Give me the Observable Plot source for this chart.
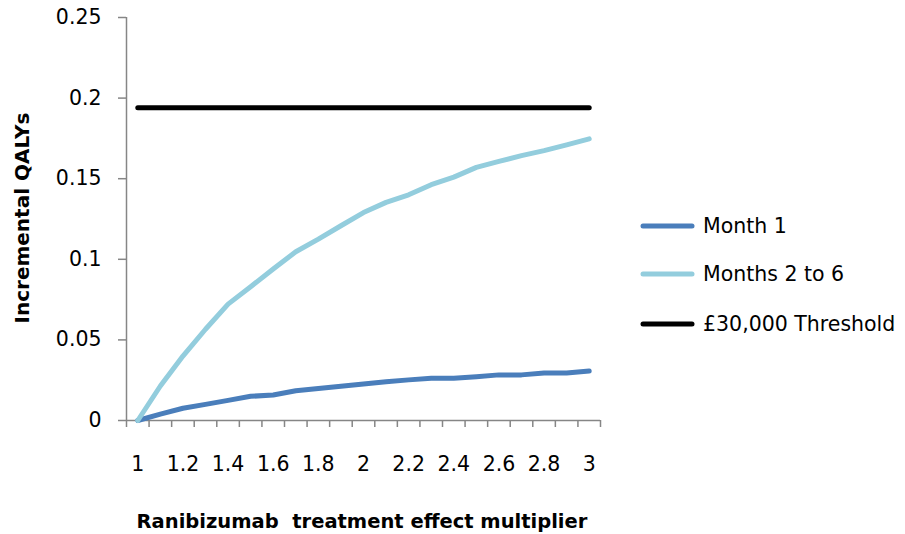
<!DOCTYPE html>
<html>
<head>
<meta charset="utf-8">
<script src="https://cdn.jsdelivr.net/npm/d3@7"></script>
<script src="https://cdn.jsdelivr.net/npm/@observablehq/plot@0.6"></script>
<style>
  html, body { margin: 0; padding: 0; background: #fff; }
  #wrap { position: relative; width: 905px; height: 534px; font-family: "DejaVu Sans", sans-serif; color: #000; }
  #wrap svg.plot { position: absolute; left: 0; top: 0; }
  .ytitle { position: absolute; left: 22px; top: 218px; transform: translate(-50%, -50%) rotate(-90deg); font-weight: bold; font-size: 20px; white-space: nowrap; }
  .xtitle { position: absolute; left: 362px; top: 521px; transform: translate(-50%, -50%); font-weight: bold; font-size: 19.5px; white-space: pre; }
  .legend { position: absolute; left: 640px; top: 0; }
  .legend .item { position: absolute; left: 0; display: flex; align-items: center; transform: translateY(-50%); white-space: nowrap; font-size: 20.5px; }
  .legend svg { display: block; margin-right: 8px; }
</style>
</head>
<body>
<div id="wrap"></div>
<script>
// Data
const multipliers = [1.0, 1.1, 1.2, 1.3, 1.4, 1.5, 1.6, 1.7, 1.8, 1.9, 2.0, 2.1, 2.2, 2.3, 2.4, 2.5, 2.6, 2.7, 2.8, 2.9, 3.0];
const month1 = [0, 0.004, 0.0076, 0.010, 0.0125, 0.015, 0.0158, 0.0185, 0.0198, 0.0212, 0.0227, 0.0241, 0.0252, 0.0262, 0.0262, 0.0272, 0.0283, 0.0283, 0.0295, 0.0295, 0.0307];
const months2to6 = [0, 0.0214, 0.040, 0.0566, 0.0722, 0.083, 0.094, 0.1047, 0.1125, 0.1208, 0.129, 0.1353, 0.140, 0.1463, 0.151, 0.157, 0.1607, 0.1643, 0.1674, 0.171, 0.1747];
const threshold = [0.194, 0.194, 0.194, 0.194, 0.194, 0.194, 0.194, 0.194, 0.194, 0.194, 0.194, 0.194, 0.194, 0.194, 0.194, 0.194, 0.194, 0.194, 0.194, 0.194, 0.194];
const seriesNames = ["Month 1", "Months 2 to 6", "£30,000 Threshold"];
const seriesColors = ["#4a7ebb", "#93cddd", "#000000"];
const xTickLabels = [1, 1.2, 1.4, 1.6, 1.8, 2, 2.2, 2.4, 2.6, 2.8, 3];
const xTickMarks = [0.95, 1.05, 1.15, 1.25, 1.35, 1.45, 1.55, 1.65, 1.75, 1.85, 1.95, 2.05, 2.15, 2.25, 2.35, 2.45, 2.55, 2.65, 2.75, 2.85, 2.95, 3.05];
const yTicks = [0, 0.05, 0.1, 0.15, 0.2, 0.25];
const yTickLabels = ["0", "0.05", "0.1", "0.15", "0.2", "0.25"];
const xTitle = "Ranibizumab  treatment effect multiplier";
const yTitle = "Incremental QALYs";

const valuesBySeries = [month1, months2to6, threshold];
const rows = [];
valuesBySeries.forEach((vals, s) => {
  vals.forEach((v, i) => rows.push({series: seriesNames[s], x: multipliers[i], y: v}));
});

const axisColor = "#868686";
const chart = Plot.plot({
  width: 905,
  height: 534,
  marginLeft: 126,
  marginRight: 305,
  marginTop: 17,
  marginBottom: 114,
  style: {fontFamily: "DejaVu Sans, sans-serif", fontSize: "20.5px", color: "#000", background: "transparent", overflow: "visible"},
  x: {domain: [0.95, 3.05], axis: null},
  y: {domain: [0, 0.25], axis: null},
  color: {domain: seriesNames, range: seriesColors},
  marks: [
    Plot.ruleX([0.95], {stroke: axisColor, strokeWidth: 1.5}),
    Plot.ruleY([0], {stroke: axisColor, strokeWidth: 1.5}),
    Plot.axisY(yTicks, {anchor: "left", tickSize: 8, tickPadding: 17, stroke: axisColor, strokeWidth: 1.5, fill: "#000", fontSize: 20.5, tickFormat: (d) => yTickLabels[yTicks.indexOf(d)], label: null}),
    Plot.axisX(xTickMarks, {anchor: "bottom", tickSize: 7, stroke: axisColor, strokeWidth: 1.5, tickFormat: () => "", label: null}),
    Plot.axisX(xTickLabels, {anchor: "bottom", tickSize: 0, tickPadding: 36, fill: "#000", fontSize: 20.5, tickFormat: d => String(d), label: null}),
    Plot.line(rows, {x: "x", y: "y", z: "series", stroke: "series", strokeWidth: 5, strokeLinecap: "round", strokeLinejoin: "round"})
  ]
});
chart.classList.add("plot");

const wrap = document.getElementById("wrap");
wrap.appendChild(chart);

const yt = document.createElement("div");
yt.className = "ytitle";
yt.textContent = yTitle;
wrap.appendChild(yt);

const xt = document.createElement("div");
xt.className = "xtitle";
xt.textContent = xTitle;
wrap.appendChild(xt);

const legend = document.createElement("div");
legend.className = "legend";
const legendTops = [226, 274, 324];
seriesNames.forEach((name, i) => {
  const item = document.createElement("div");
  item.className = "item";
  item.style.top = legendTops[i] + "px";
  item.innerHTML = `<svg width="55" height="10"><line x1="3" y1="5" x2="52" y2="5" stroke="${seriesColors[i]}" stroke-width="5" stroke-linecap="round"/></svg><span>${name}</span>`;
  legend.appendChild(item);
});
wrap.appendChild(legend);
</script>
</body>
</html>
